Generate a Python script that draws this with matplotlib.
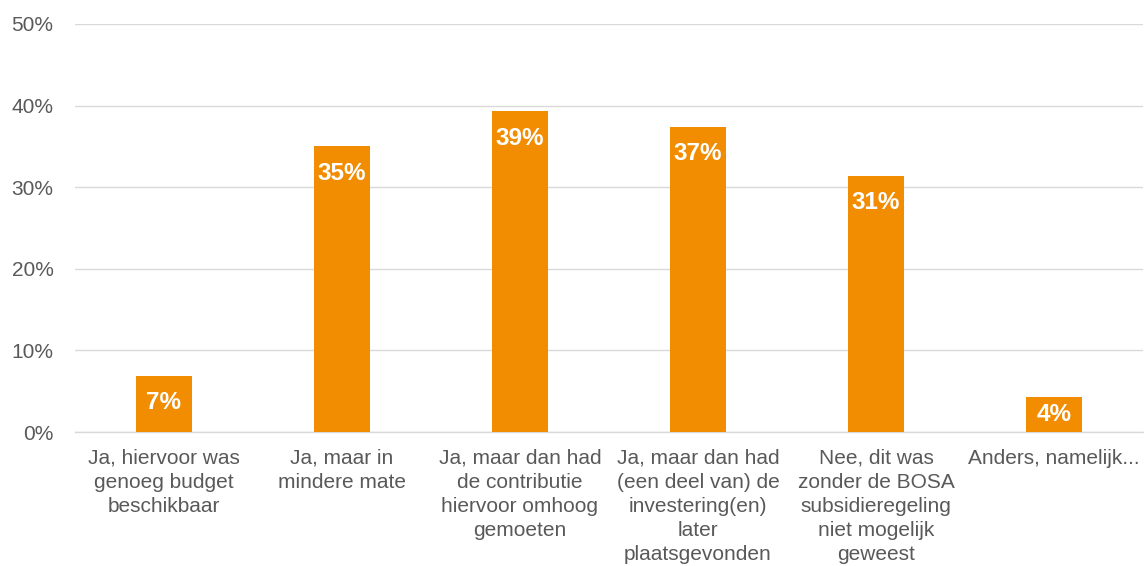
import matplotlib
matplotlib.use("Agg")
import matplotlib.pyplot as plt
from matplotlib.ticker import PercentFormatter

categories = [
    "Ja, hiervoor was\ngenoeg budget\nbeschikbaar",
    "Ja, maar in\nmindere mate",
    "Ja, maar dan had\nde contributie\nhiervoor omhoog\ngemoeten",
    "Ja, maar dan had\n(een deel van) de\ninvestering(en)\nlater\nplaatsgevonden",
    "Nee, dit was\nzonder de BOSA\nsubsidieregeling\nniet mogelijk\ngeweest",
    "Anders, namelijk...",
]
values = [6.9, 35.0, 39.3, 37.4, 31.4, 4.3]
labels = ["7%", "35%", "39%", "37%", "31%", "4%"]
yticks = [0, 10, 20, 30, 40, 50]

plt.rcParams['font.family'] = ['Liberation Sans', 'DejaVu Sans']
text_color = "#595959"
bar_color = "#F28C00"

fig = plt.figure(figsize=(11.48, 5.66), dpi=100)
ax = fig.add_axes([0.0653, 0.2367, 0.9303, 0.7209])

x = list(range(len(categories)))
bars = ax.bar(x, values, width=0.315, color=bar_color, zorder=3)

ax.set_xlim(-0.5, len(categories) - 0.5)
ax.set_ylim(0, 50)
ax.set_yticks(yticks)
ax.yaxis.set_major_formatter(PercentFormatter(decimals=0))
ax.grid(axis='y', color="#D9D9D9", lw=1.0, zorder=0)
for s in ['top', 'right', 'left']:
    ax.spines[s].set_visible(False)
ax.spines['bottom'].set_color("#D9D9D9")
ax.spines['bottom'].set_linewidth(1.0)
ax.tick_params(axis='y', length=0, pad=15.5, labelsize=15, labelcolor=text_color)
ax.tick_params(axis='x', length=0, pad=12, labelsize=15, labelcolor=text_color)
ax.set_xticks(x)
ax.set_xticklabels(categories, linespacing=1.34, va='top')

# bar labels: inside end, clamped to bar middle
px_per_unit = (0.7209 * 566) / 50.0
for xi, v, lab in zip(x, values, labels):
    bar_px = v * px_per_unit
    off_px = min(27, bar_px / 2)
    ax.annotate(lab, xy=(xi, v), xytext=(0, -off_px * 72 / 100), textcoords='offset points',
                ha='center', va='center', color='white', fontsize=17.5, fontweight='bold', zorder=4)

fig.savefig("out.png", dpi=100)
